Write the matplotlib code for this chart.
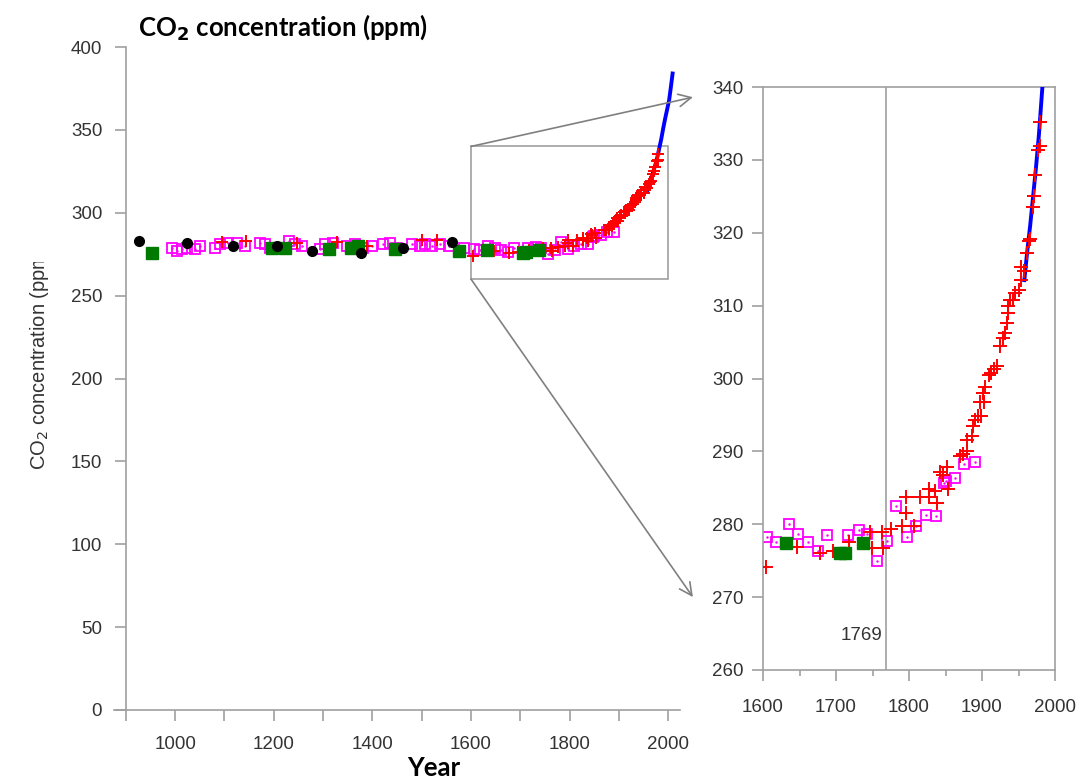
import matplotlib.pyplot as plt
from matplotlib.patches import Rectangle, ConnectionPatch
from matplotlib.transforms import Bbox, TransformedBbox
from matplotlib.ticker import MultipleLocator

# ice core, black dots
dot_years = [927, 1024, 1118, 1207, 1278, 1377, 1462, 1562]
dot_ppm = [283.0, 281.8, 280.0, 280.0, 277.0, 275.7, 279.0, 282.4]

# filled green squares
green_years = [953, 1197, 1223, 1312, 1357, 1371, 1446, 1576, 1632, 1705, 1712, 1737]
green_ppm = [275.7, 278.7, 278.7, 278.0, 278.7, 280.0, 278.0, 277.0, 277.4, 276.0, 276.1, 277.4]

# open magenta squares
mag_years = [993, 1003, 1014, 1025, 1041, 1051, 1081, 1091, 1108, 1126,
             1142, 1172, 1183, 1193, 1230, 1243, 1257, 1294, 1304, 1321,
             1348, 1365, 1382, 1399, 1422, 1436, 1450, 1480, 1497, 1507,
             1521, 1538, 1555, 1585,
             1606, 1618, 1635, 1648, 1661, 1675, 1687, 1716, 1731, 1743,
             1756, 1770, 1782, 1797, 1810, 1823, 1837, 1848, 1850, 1863,
             1875, 1890]
mag_ppm = [279, 277, 278, 279, 278, 280, 279, 281, 282, 282,
           280, 282, 281, 279, 283, 281, 280, 278, 281, 282,
           280, 281, 279, 280, 281, 282, 279, 281, 280, 281,
           280, 281, 280, 279,
           278.2, 277.6, 280.0, 278.6, 277.6, 276.3, 278.5, 278.5, 279.2, 278.6,
           275.0, 277.7, 282.5, 278.2, 279.7, 281.3, 281.2, 285.6, 286.0, 286.4,
           288.3, 288.5]

# red crosses
red_years = [1095, 1143, 1247, 1328, 1389, 1500, 1531,
             1604, 1646, 1678, 1696, 1718, 1747, 1749, 1763, 1765, 1776,
             1790, 1796, 1796, 1807, 1815, 1827, 1827, 1838, 1836, 1843,
             1846, 1852, 1853, 1870, 1874, 1879, 1880, 1886, 1888, 1890,
             1894, 1898, 1897, 1903, 1902, 1904, 1910, 1913, 1916, 1920,
             1925, 1929, 1932, 1934, 1935, 1936, 1939, 1943, 1945, 1950,
             1954, 1957, 1954, 1961, 1964, 1966, 1970, 1971, 1973, 1977,
             1979, 1979]
red_ppm = [282.5, 283.0, 281.6, 282.5, 280.0, 283.6, 283.6,
           274.2, 276.9, 276.0, 276.3, 277.5, 279.0, 276.7, 278.9, 276.7, 279.4,
           279.7, 281.5, 283.7, 279.8, 283.7, 284.9, 283.8, 282.9, 284.6, 287.2,
           286.8, 287.9, 284.9, 289.3, 289.7, 290.0, 291.6, 292.1, 293.5, 294.3,
           294.8, 294.9, 296.8, 296.8, 298.0, 298.9, 300.5, 300.8, 301.3, 301.7,
           304.4, 305.5, 306.2, 307.6, 309.0, 309.9, 310.8, 310.8, 311.7, 312.1,
           313.5, 314.7, 315.3, 317.2, 318.8, 319.2, 323.6, 325.0, 327.9, 331.3,
           331.9, 335.2]

# Mauna Loa, blue line
ml_years = [1958, 1962, 1966, 1970, 1974, 1978, 1982, 1986, 1990, 1994,
            1998, 2002, 2006, 2009]
ml_ppm = [313.5, 317.5, 321.0, 325.0, 329.0, 333.5, 339.0, 344.5, 351.0, 357.0,
          362.5, 368.0, 377.0, 384.0]

W, H = 1086, 780
fig = plt.figure(figsize=(W / 100, H / 100), dpi=100)

def fx(px):
    return px / W

def fy(py):
    return 1 - py / H

gray = '#a0a0a0'
tickfont = {'family': 'Liberation Sans', 'size': 13.5, 'color': '#333333'}


def draw_data(ax, big):
    ms_sq = 7.5 if big else 7
    ax.plot(mag_years, mag_ppm, 's', ms=ms_sq, mfc='none', mec='#ff00ff', mew=1.3, zorder=2)
    ax.plot(mag_years, mag_ppm, '.', ms=1.5, color='#ff00ff', zorder=2)
    ax.plot(ml_years, ml_ppm, '-', color='#0000ff', lw=2.8, zorder=3)
    ax.plot(red_years, red_ppm, '+', ms=9.5 if big else 8, mew=1.4, color='#ff0000', zorder=4)
    ax.plot(green_years, green_ppm, 's', ms=8, color='#007a00', mec='#007a00', zorder=5)
    ax.plot(dot_years, dot_ppm, 'o', ms=7, color='black', zorder=6)


# ---- left panel
ax1 = fig.add_axes([fx(114), fy(710), fx(680) - fx(114), fy(47) - fy(710)])
draw_data(ax1, False)
ax1.set_xlim(876, 2024)
ax1.set_ylim(0, 400)
for s in ['top', 'right']:
    ax1.spines[s].set_visible(False)
ax1.spines['left'].set_position(('data', 900))
for s in ['left', 'bottom']:
    ax1.spines[s].set_color(gray)
    ax1.spines[s].set_linewidth(1.2)
ax1.set_xticks([1000, 1200, 1400, 1600, 1800, 2000])
ax1.xaxis.set_minor_locator(MultipleLocator(100))
ax1.set_yticks(range(0, 401, 50))
ax1.tick_params(which='both', direction='out', length=8, width=1.2, color=gray)
ax1.tick_params(axis='x', pad=11)
ax1.tick_params(axis='y', pad=9)
ax1.set_xticklabels([str(v) for v in ax1.get_xticks()], fontdict=tickfont)
ax1.set_yticklabels([str(v) for v in ax1.get_yticks()], fontdict=tickfont)

ax1.add_patch(Rectangle((1600, 260), 400, 80, fill=False, ec=gray, lw=1.2, zorder=1))

# ---- right panel
ax2 = fig.add_axes([fx(763), fy(670), fx(1055) - fx(763), fy(87) - fy(670)])
draw_data(ax2, True)
ax2.set_xlim(1600, 2000)
ax2.set_ylim(260, 340)
for s in ax2.spines.values():
    s.set_color(gray)
    s.set_linewidth(1.2)
ax2.set_xticks([1600, 1700, 1800, 1900, 2000])
ax2.xaxis.set_minor_locator(MultipleLocator(50))
ax2.set_yticks(range(260, 341, 10))
ax2.tick_params(which='major', direction='out', length=8, width=1.2, color=gray)
ax2.tick_params(which='minor', direction='out', length=4, width=1.2, color=gray)
ax2.tick_params(axis='x', pad=13)
ax2.tick_params(axis='y', pad=6)
ax2.set_xticklabels([str(v) for v in ax2.get_xticks()], fontdict=tickfont)
ax2.set_yticklabels([str(v) for v in ax2.get_yticks()], fontdict=tickfont)
ax2.axvline(1769, color=gray, lw=1.2, zorder=1)
ax2.text(1735, 264.8, '1769', ha='center', va='center', **tickfont)

# zoom arrows
for y0, y1 in [(340, 338.6), (260, 270)]:
    con = ConnectionPatch(xyA=(1600, y0), coordsA=ax1.transData,
                          xyB=(1504, y1), coordsB=ax2.transData,
                          arrowstyle='->,head_length=0.9,head_width=0.45',
                          color='#808080', lw=1.2, clip_on=False)
    fig.add_artist(con)

# titles
fig.text(fx(138), fy(27), 'CO$_\\mathbf{2}$ concentration (ppm)', fontsize=18.5,
         fontweight='bold', family='Lato', ha='left', va='center')
fig.text(fx(434), fy(768), 'Year', fontsize=18.5, fontweight='bold', family='Lato',
         ha='center', va='center')
yl = fig.text(fx(40), fy(470), 'CO$_2$ concentration (ppm)', rotation=90,
              ha='center', va='bottom', family='Liberation Sans', fontsize=14.5,
              color='#333333')
yl.set_clip_box(TransformedBbox(Bbox([[0, 0], [0.2, fy(262)]]), fig.transFigure))
yl.set_clip_on(True)

fig.savefig('out.png', dpi=100)
